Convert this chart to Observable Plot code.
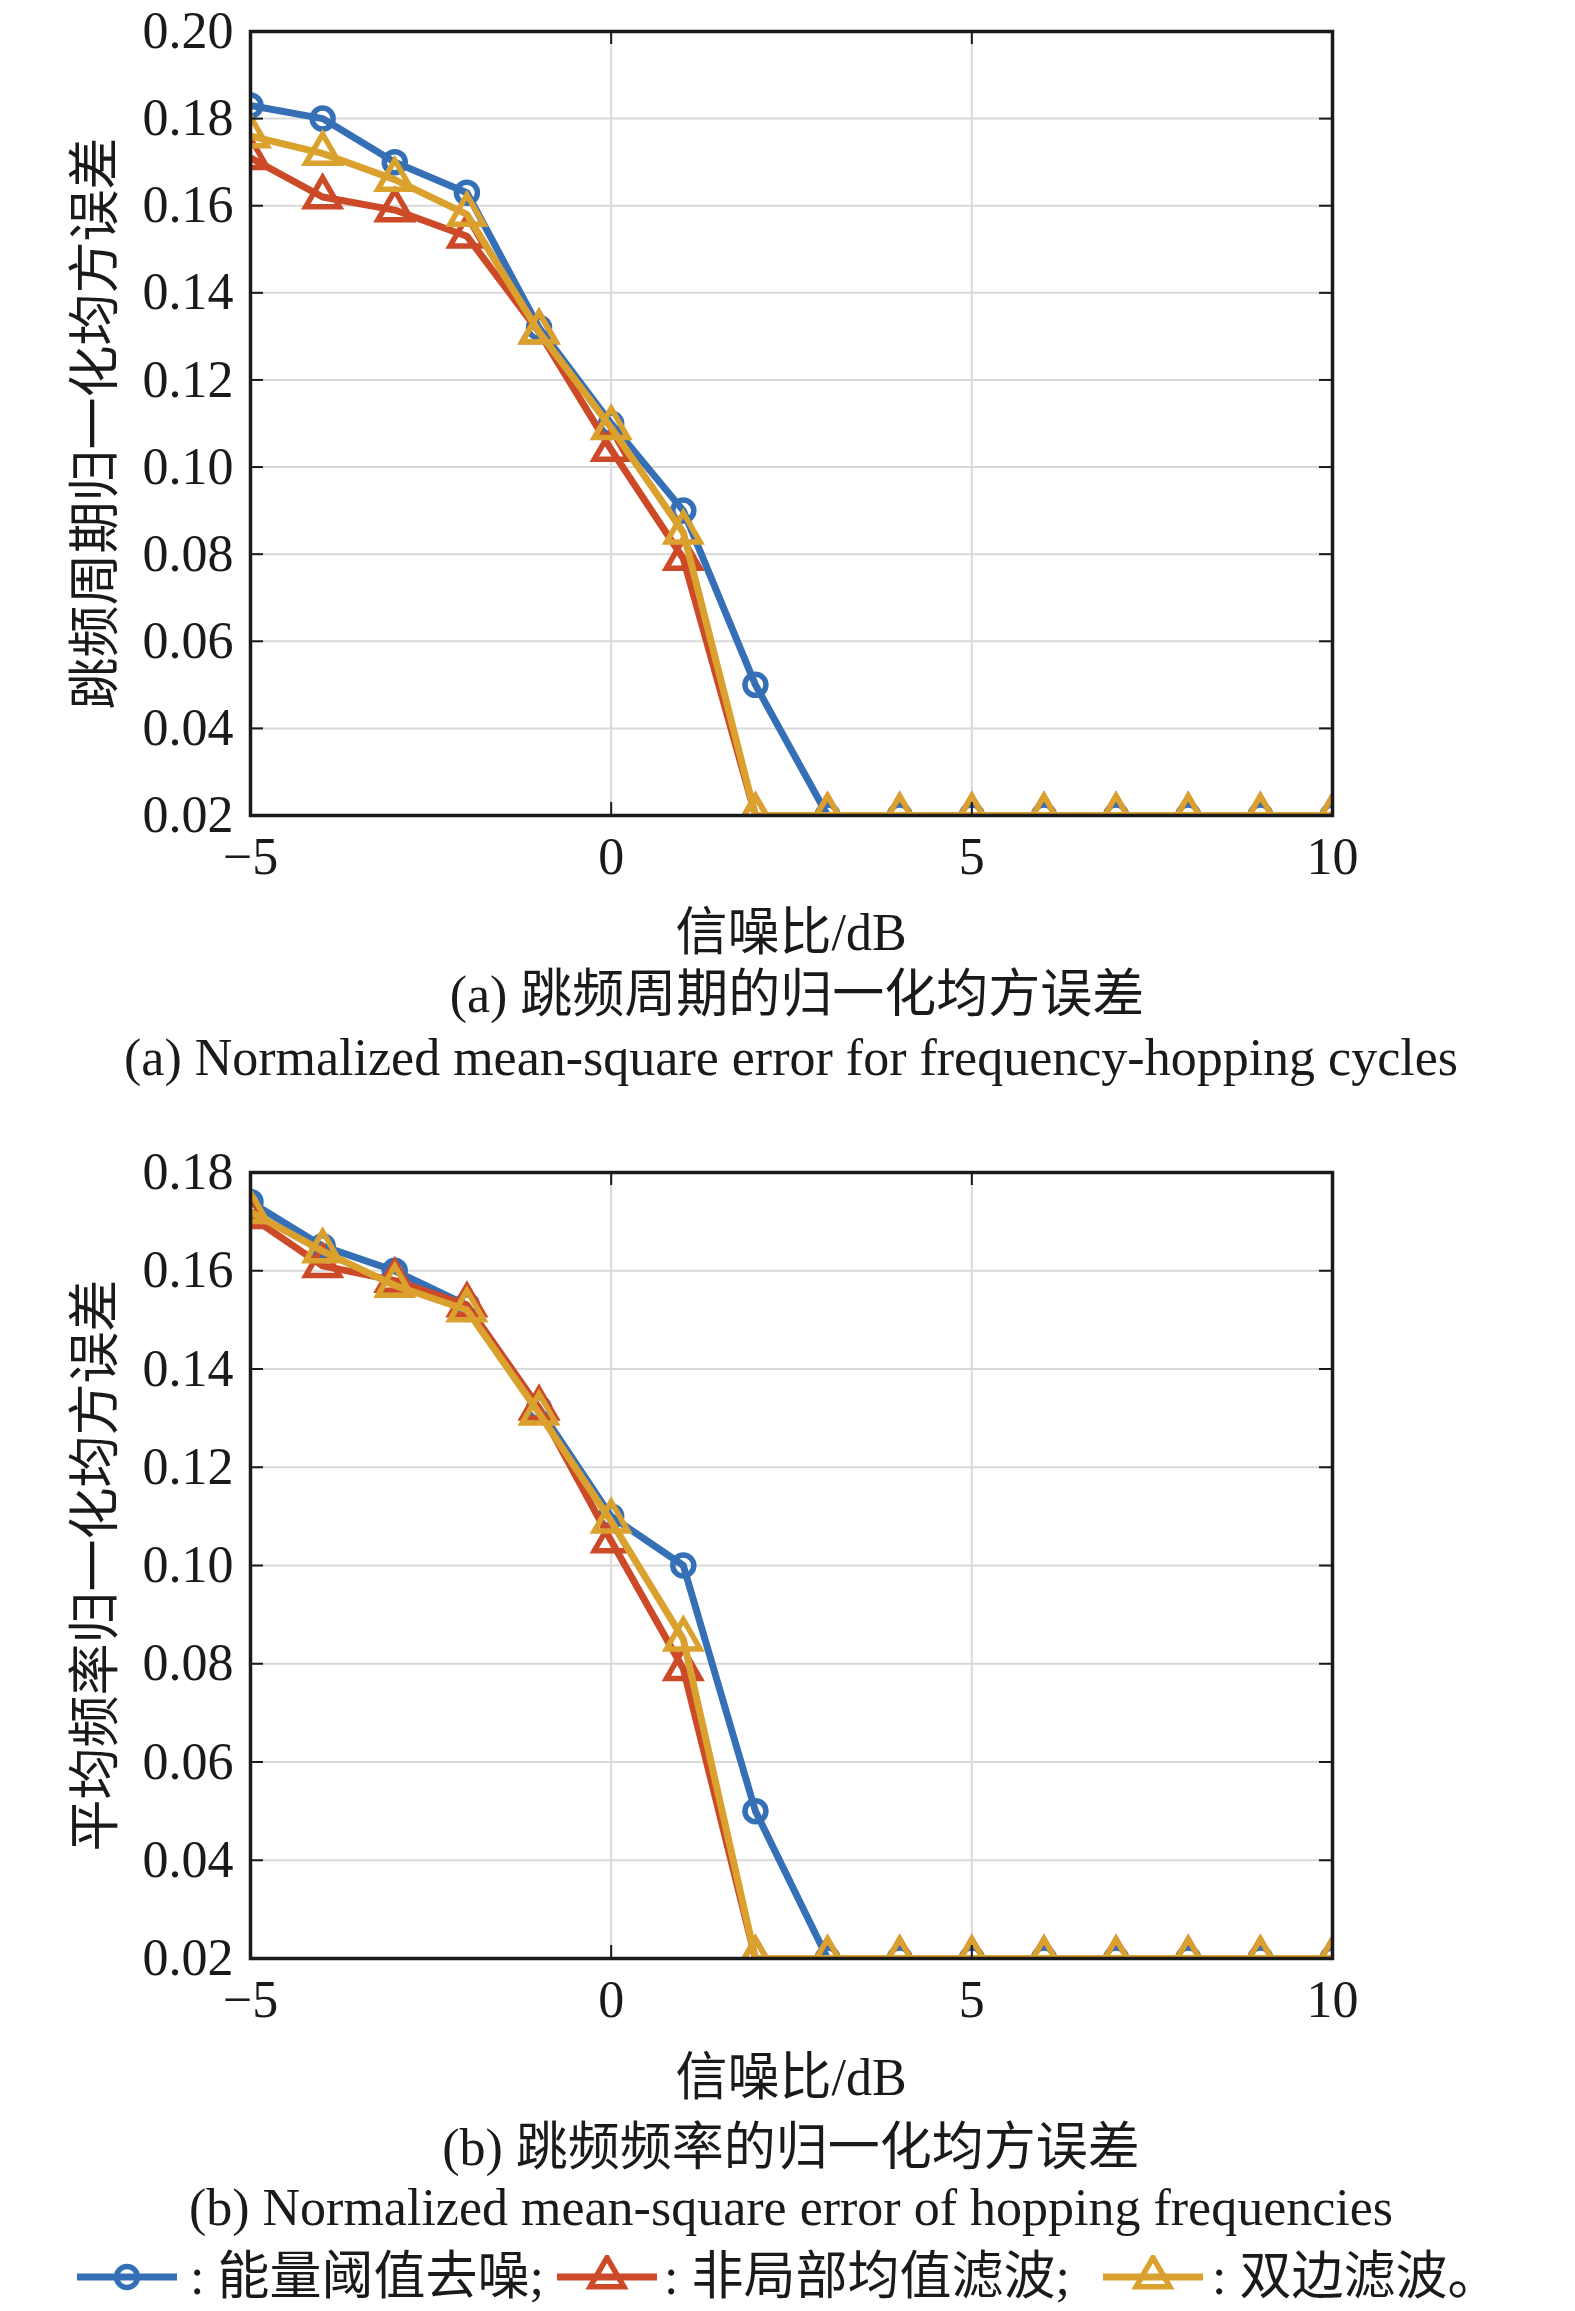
<!DOCTYPE html>
<html>
<head>
<meta charset="utf-8">
<script src="https://cdn.jsdelivr.net/npm/d3@7"></script>
<script src="https://cdn.jsdelivr.net/npm/@observablehq/plot@0.6"></script>
<style>
  html, body { margin: 0; padding: 0; background: white; overflow: hidden; }
  #root { position: relative; width: 1575px; height: 2311px; overflow: hidden; background: white;
          font-family: 'Liberation Serif', 'Noto Sans CJK SC', serif; color: #1a1a1a; }
  .abs { position: absolute; white-space: nowrap; line-height: 1; }
  .center { transform: translate(-50%, -50%); }
  .txt { font-size: 52px; }
  .leg { position: absolute; display: flex; align-items: center; transform: translateY(-50%); white-space: nowrap; font-size: 52px; line-height: 1; }
</style>
</head>
<body>
<div id="root"></div>
<script>
// ---------- data ----------
const snr = [-5, -4, -3, -2, -1, 0, 1, 2, 3, 4, 5, 6, 7, 8, 9, 10];
const seriesNames = ["能量阈值去噪", "非局部均值滤波", "双边滤波"];
const seriesColors = ["#3570b7", "#cc4a28", "#dba12f"];
const seriesSymbols = ["circle", "triangle", "triangle"];

// (a) 跳频周期的归一化均方误差
const aEnergy    = [0.183, 0.180, 0.170, 0.163, 0.132, 0.110, 0.090, 0.050, 0.020, 0.020, 0.020, 0.020, 0.020, 0.020, 0.020, 0.020];
const aNLM       = [0.171, 0.162, 0.159, 0.153, 0.131, 0.104, 0.079, 0.020, 0.020, 0.020, 0.020, 0.020, 0.020, 0.020, 0.020, 0.020];
const aBilateral = [0.176, 0.172, 0.166, 0.158, 0.131, 0.109, 0.085, 0.020, 0.020, 0.020, 0.020, 0.020, 0.020, 0.020, 0.020, 0.020];

// (b) 跳频频率的归一化均方误差
const bEnergy    = [0.174, 0.165, 0.160, 0.153, 0.132, 0.110, 0.100, 0.050, 0.020, 0.020, 0.020, 0.020, 0.020, 0.020, 0.020, 0.020];
const bNLM       = [0.171, 0.161, 0.158, 0.153, 0.132, 0.105, 0.079, 0.020, 0.020, 0.020, 0.020, 0.020, 0.020, 0.020, 0.020, 0.020];
const bBilateral = [0.172, 0.164, 0.157, 0.152, 0.131, 0.109, 0.085, 0.020, 0.020, 0.020, 0.020, 0.020, 0.020, 0.020, 0.020, 0.020];

const xTicks = [-5, 0, 5, 10];
const xInnerTicks = [0, 5];
const aYTicks = [0.02, 0.04, 0.06, 0.08, 0.10, 0.12, 0.14, 0.16, 0.18, 0.20];
const bYTicks = [0.02, 0.04, 0.06, 0.08, 0.10, 0.12, 0.14, 0.16, 0.18];

const aYLabel = "跳频周期归一化均方误差";
const bYLabel = "平均频率归一化均方误差";
const xLabel = "信噪比/dB";
const aCaptionCn = "(a) 跳频周期的归一化均方误差";
const aCaptionEn = "(a) Normalized mean-square error for frequency-hopping cycles";
const bCaptionCn = "(b) 跳频频率的归一化均方误差";
const bCaptionEn = "(b) Normalized mean-square error of hopping frequencies";
const legendTexts = [": 能量阈值去噪;", ": 非局部均值滤波;", ": 双边滤波。"];

// ---------- layout ----------
const W = 1575, ML = 250, MR = 243;
const FONT = "'Liberation Serif', 'Noto Sans CJK SC', serif";
const LINE_W = 7, MARK_W = 5.5, R_CIRCLE = 10.5, R_TRI = 12.5;

function makePlot({values, yTicks, yDomain, ylabel, height, mt, mb}) {
  const plotW = W - ML - MR;
  const plotH = height - mt - mb;
  const marks = [
    Plot.gridY(yTicks, {stroke: "#d9d9d9", strokeOpacity: 1, strokeWidth: 2}),
    Plot.gridX(xInnerTicks, {stroke: "#d9d9d9", strokeOpacity: 1, strokeWidth: 2})
  ];
  values.forEach((vals, i) => {
    const rows = snr.map((x, j) => ({x, y: vals[j]}));
    marks.push(Plot.line(rows, {x: "x", y: "y", stroke: seriesColors[i], strokeWidth: LINE_W, clip: "frame"}));
    marks.push(Plot.dot(rows, {x: "x", y: "y", stroke: seriesColors[i], fill: "none", strokeWidth: MARK_W,
      symbol: seriesSymbols[i], r: seriesSymbols[i] === "circle" ? R_CIRCLE : R_TRI, clip: "frame"}));
  });
  marks.push(
    Plot.ruleX(xInnerTicks, {x: d => d, insetTop: plotH - 13, stroke: "#1a1a1a", strokeWidth: 2}),
    Plot.ruleX(xInnerTicks, {x: d => d, insetBottom: plotH - 13, stroke: "#1a1a1a", strokeWidth: 2}),
    Plot.ruleY(yTicks, {y: d => d, insetRight: plotW - 13, stroke: "#1a1a1a", strokeWidth: 2}),
    Plot.ruleY(yTicks, {y: d => d, insetLeft: plotW - 13, stroke: "#1a1a1a", strokeWidth: 2}),
    Plot.frame({stroke: "#1a1a1a", strokeWidth: 3.5}),
    Plot.axisX(xTicks, {tickSize: 0, tickPadding: 22, label: null, fill: "#1a1a1a"}),
    Plot.axisY(yTicks, {tickSize: 0, tickPadding: 17, tickFormat: d3.format(".2f"), label: null, fill: "#1a1a1a"}),
    Plot.text([ylabel], {text: d => d, frameAnchor: "left", rotate: -90, dx: -154, lineAnchor: "middle", textAnchor: "middle", fill: "#1a1a1a", fontSize: 52})
  );
  return Plot.plot({
    width: W, height,
    marginLeft: ML, marginRight: MR, marginTop: mt, marginBottom: mb,
    x: {domain: [-5, 10]},
    y: {domain: yDomain},
    style: {fontFamily: FONT, fontSize: "52px", background: "transparent", color: "#1a1a1a"},
    marks
  });
}

const root = document.getElementById("root");

function place(el, top) {
  const d = document.createElement("div");
  d.className = "abs";
  d.style.left = "0px";
  d.style.top = top + "px";
  d.appendChild(el);
  root.appendChild(d);
}
function label(text, cx, cy) {
  const d = document.createElement("div");
  d.className = "abs center txt";
  d.style.left = cx + "px";
  d.style.top = cy + "px";
  d.textContent = text;
  root.appendChild(d);
}

// plot (a): frame y 31..815
place(makePlot({values: [aEnergy, aNLM, aBilateral], yTicks: aYTicks, yDomain: [0.02, 0.20],
  ylabel: aYLabel, height: 900, mt: 31, mb: 85}), 0);
// plot (b): frame y 1172..1958
place(makePlot({values: [bEnergy, bNLM, bBilateral], yTicks: bYTicks, yDomain: [0.02, 0.18],
  ylabel: bYLabel, height: 920, mt: 52, mb: 82}), 1120);

label(xLabel, 791, 933);
label(aCaptionCn, 797, 995);
label(aCaptionEn, 791, 1058);
label(xLabel, 791, 2078);
label(bCaptionCn, 791, 2148);
label(bCaptionEn, 791, 2208);

// legend
const legendPos = [[77, 190], [557, 664], [1103, 1212]];
seriesNames.forEach((name, i) => {
  const sw = d3.create("svg").attr("width", 100).attr("height", 44)
    .style("position", "absolute").style("left", legendPos[i][0] + "px").style("top", (2277 - 22) + "px");
  sw.append("line").attr("x1", 0).attr("x2", 100).attr("y1", 22).attr("y2", 22)
    .attr("stroke", seriesColors[i]).attr("stroke-width", LINE_W);
  const r = seriesSymbols[i] === "circle" ? R_CIRCLE : R_TRI;
  const sym = seriesSymbols[i] === "circle" ? d3.symbolCircle : d3.symbolTriangle;
  sw.append("path").attr("transform", "translate(50,22)")
    .attr("d", d3.symbol(sym, Math.PI * r * r)())
    .attr("fill", "none").attr("stroke", seriesColors[i]).attr("stroke-width", MARK_W);
  root.appendChild(sw.node());
  const t = document.createElement("div");
  t.className = "leg";
  t.style.left = legendPos[i][1] + "px";
  t.style.top = "2277px";
  t.textContent = legendTexts[i];
  root.appendChild(t);
});
</script>
</body>
</html>
